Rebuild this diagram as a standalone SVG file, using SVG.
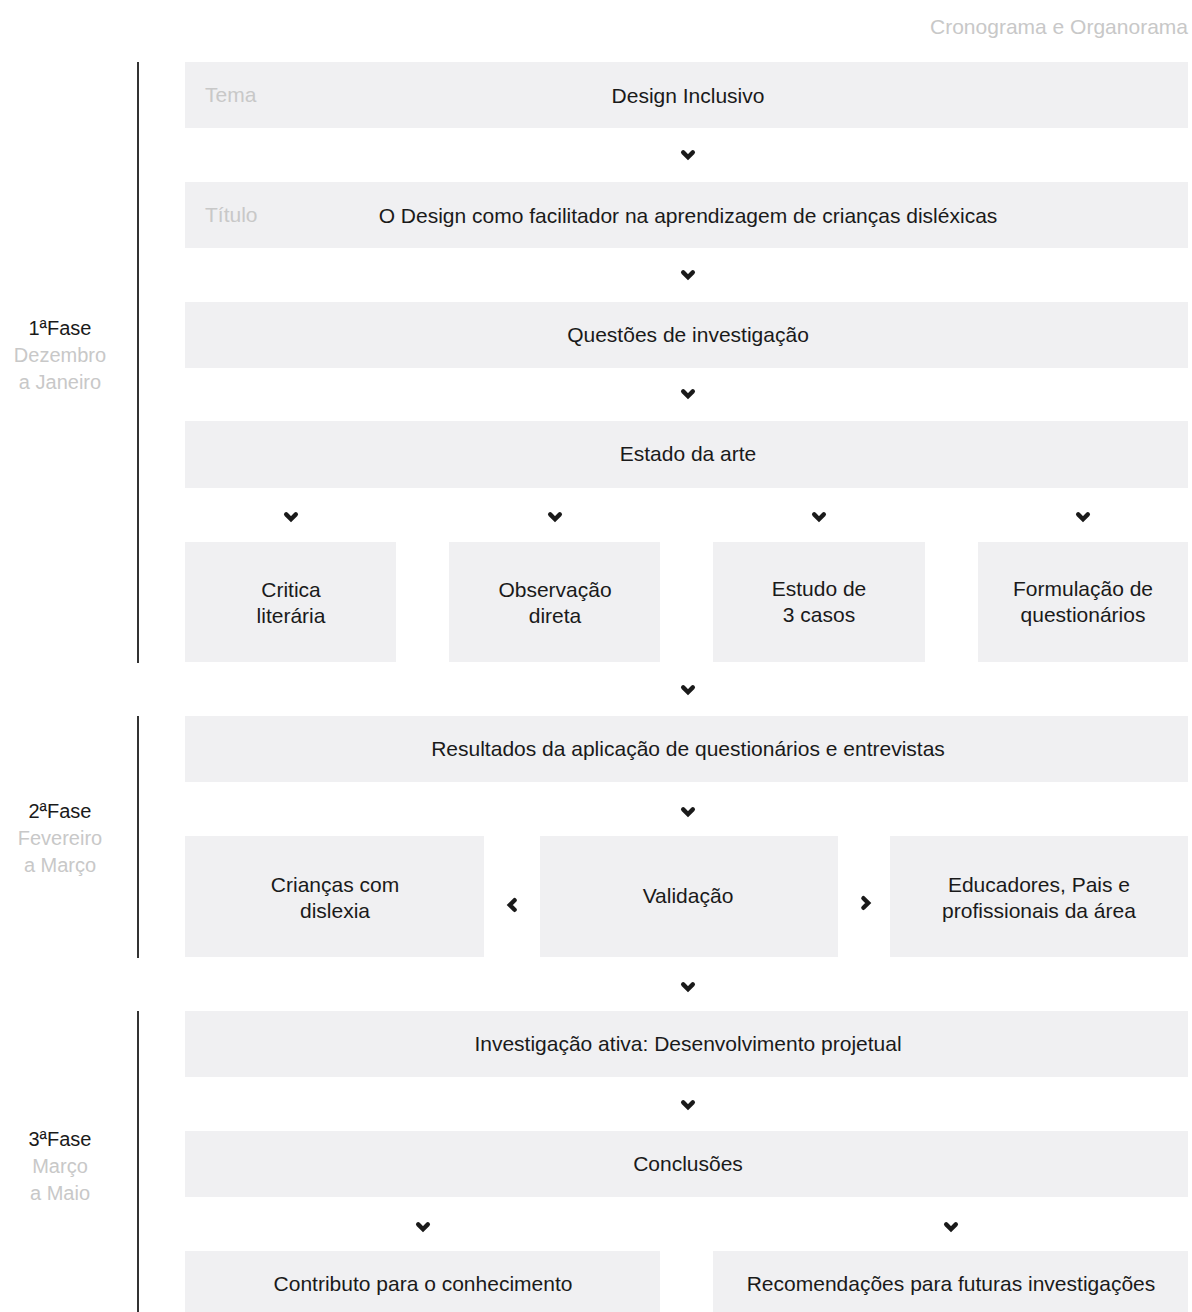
<svg xmlns="http://www.w3.org/2000/svg" width="1192" height="1312" viewBox="0 0 1192 1312">
<defs>
<style>
.box{fill:#f0f0f2}
.t{font-family:"Liberation Sans",Arial,sans-serif;font-size:21px;fill:#1a1a1a;text-anchor:middle}
.g{font-family:"Liberation Sans",Arial,sans-serif;font-size:21px;fill:#c8c8c8}
.ph{font-family:"Liberation Sans",Arial,sans-serif;font-size:20px;text-anchor:middle}
.chev{fill:none;stroke:#1a1a1a;stroke-width:4.4;stroke-linecap:round;stroke-linejoin:miter}
.vl{stroke:#333;stroke-width:2}
</style>
<path id="cd" class="chev" d="M-4.8,-2.6 L0,2.2 L4.8,-2.6"/>
<path id="cl" class="chev" d="M2.6,-4.8 L-2.2,0 L2.6,4.8"/>
<path id="cr" class="chev" d="M-2.6,-4.8 L2.2,0 L-2.6,4.8"/>
</defs>
<rect width="1192" height="1312" fill="#fff"/>
<text class="g" x="1188" y="34" text-anchor="end">Cronograma e Organorama</text>

<g id="phases">
<line class="vl" x1="138" y1="62" x2="138" y2="663"/>
<line class="vl" x1="138" y1="716" x2="138" y2="958"/>
<line class="vl" x1="138" y1="1011" x2="138" y2="1312"/>
<text class="ph" x="60" y="335"><tspan fill="#1a1a1a">1ªFase</tspan><tspan x="60" dy="27" fill="#c8c8c8">Dezembro</tspan><tspan x="60" dy="27" fill="#c8c8c8">a Janeiro</tspan></text>
<text class="ph" x="60" y="818"><tspan fill="#1a1a1a">2ªFase</tspan><tspan x="60" dy="27" fill="#c8c8c8">Fevereiro</tspan><tspan x="60" dy="27" fill="#c8c8c8">a Março</tspan></text>
<text class="ph" x="60" y="1146"><tspan fill="#1a1a1a">3ªFase</tspan><tspan x="60" dy="27" fill="#c8c8c8">Março</tspan><tspan x="60" dy="27" fill="#c8c8c8">a Maio</tspan></text>
</g>

<g id="n-tema"><rect class="box" x="185" y="62" width="1003" height="66"/><text class="g" x="205" y="102">Tema</text><text class="t" x="688" y="103">Design Inclusivo</text></g>
<g id="n-titulo"><rect class="box" x="185" y="182" width="1003" height="66"/><text class="g" x="205" y="222">Título</text><text class="t" x="688" y="223">O Design como facilitador na aprendizagem de crianças disléxicas</text></g>
<g id="n-questoes"><rect class="box" x="185" y="302" width="1003" height="66"/><text class="t" x="688" y="342">Questões de investigação</text></g>
<g id="n-estado"><rect class="box" x="185" y="421" width="1003" height="67"/><text class="t" x="688" y="461">Estado da arte</text></g>
<g id="n-critica"><rect class="box" x="185" y="542" width="211" height="120"/><text class="t" x="291" y="597">Critica</text><text class="t" x="291" y="623">literária</text></g>
<g id="n-observacao"><rect class="box" x="449" y="542" width="211" height="120"/><text class="t" x="555" y="597">Observação</text><text class="t" x="555" y="623">direta</text></g>
<g id="n-estudo"><rect class="box" x="713" y="542" width="212" height="120"/><text class="t" x="819" y="596">Estudo de</text><text class="t" x="819" y="622">3 casos</text></g>
<g id="n-formulacao"><rect class="box" x="978" y="542" width="210" height="120"/><text class="t" x="1083" y="596">Formulação de</text><text class="t" x="1083" y="622">questionários</text></g>
<g id="n-resultados"><rect class="box" x="185" y="716" width="1003" height="66"/><text class="t" x="688" y="756">Resultados da aplicação de questionários e entrevistas</text></g>
<g id="n-criancas"><rect class="box" x="185" y="836" width="299" height="121"/><text class="t" x="335" y="892">Crianças com</text><text class="t" x="335" y="918">dislexia</text></g>
<g id="n-validacao"><rect class="box" x="540" y="836" width="298" height="121"/><text class="t" x="688" y="903">Validação</text></g>
<g id="n-educadores"><rect class="box" x="890" y="836" width="298" height="121"/><text class="t" x="1039" y="892">Educadores, Pais e</text><text class="t" x="1039" y="918">profissionais da área</text></g>
<g id="n-investigacao"><rect class="box" x="185" y="1011" width="1003" height="66"/><text class="t" x="688" y="1051">Investigação ativa: Desenvolvimento projetual</text></g>
<g id="n-conclusoes"><rect class="box" x="185" y="1131" width="1003" height="66"/><text class="t" x="688" y="1171">Conclusões</text></g>
<g id="n-contributo"><rect class="box" x="185" y="1251" width="475" height="61"/><text class="t" x="423" y="1291">Contributo para o conhecimento</text></g>
<g id="n-recomendacoes"><rect class="box" x="713" y="1251" width="475" height="61"/><text class="t" x="951" y="1291">Recomendações para futuras investigações</text></g>

<g id="connectors">
<use href="#cd" x="688" y="155"/>
<use href="#cd" x="688" y="275"/>
<use href="#cd" x="688" y="394"/>
<use href="#cd" x="291" y="517"/>
<use href="#cd" x="555" y="517"/>
<use href="#cd" x="819" y="517"/>
<use href="#cd" x="1083" y="517"/>
<use href="#cd" x="688" y="690"/>
<use href="#cd" x="688" y="812"/>
<use href="#cl" x="512" y="905"/>
<use href="#cr" x="866" y="903"/>
<use href="#cd" x="688" y="987"/>
<use href="#cd" x="688" y="1105"/>
<use href="#cd" x="423" y="1227"/>
<use href="#cd" x="951" y="1227"/>
</g>
</svg>
